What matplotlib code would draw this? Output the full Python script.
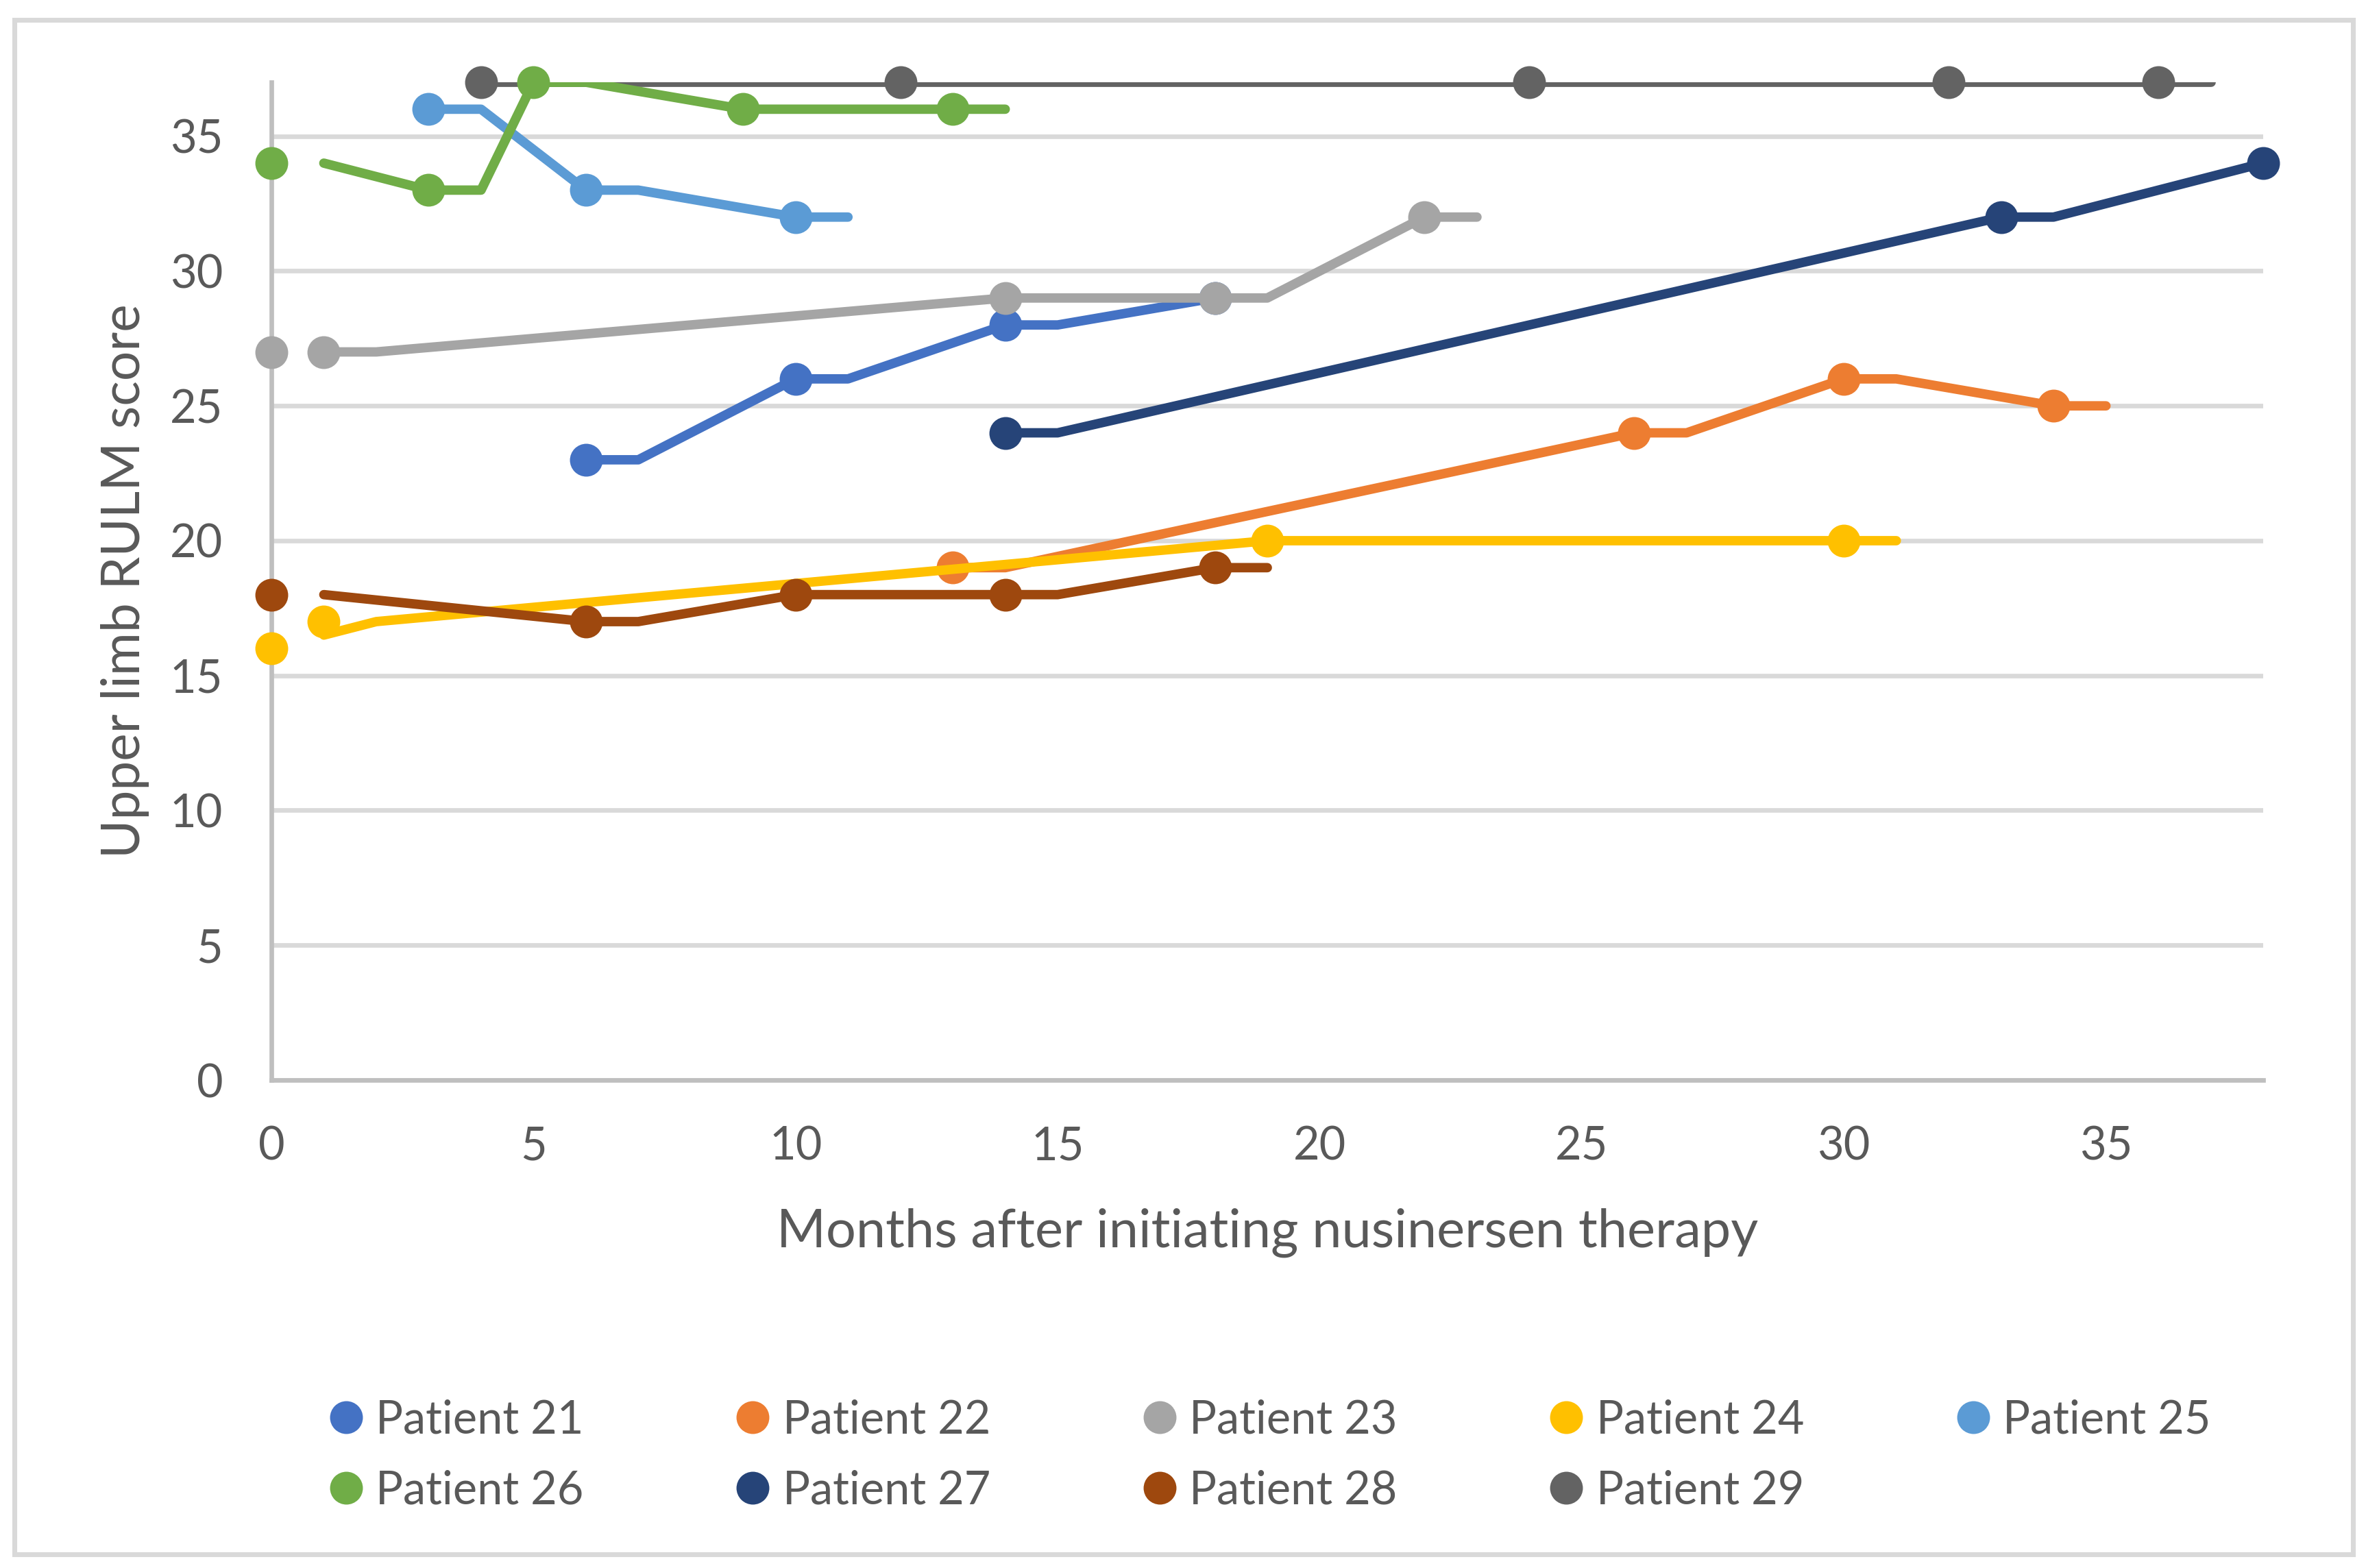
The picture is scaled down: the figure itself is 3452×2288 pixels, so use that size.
import numpy as np
import matplotlib
matplotlib.use("Agg")
import matplotlib.pyplot as plt
from matplotlib.lines import Line2D
from matplotlib.patches import FancyBboxPatch

#%% data: measured points (markers) and the drawn connecting lines per patient
patients = ["Patient 21", "Patient 22", "Patient 23", "Patient 24", "Patient 25",
            "Patient 26", "Patient 27", "Patient 28", "Patient 29"]
colors = ["#4472C4", "#ED7D31", "#A5A5A5", "#FFC000", "#5B9BD5",
          "#70AD47", "#264478", "#9E480E", "#636363"]

months_21 = [6, 10, 14, 18]
score_21 = [23, 26, 28, 29]
line_x_21 = [6, 7, 10, 11, 14, 15, 18]
line_y_21 = [23, 23, 26, 26, 28, 28, 29]

months_22 = [13, 26, 30, 34]
score_22 = [19, 24, 26, 25]
line_x_22 = [13, 14, 26, 27, 30, 31, 34, 35]
line_y_22 = [19, 19, 24, 24, 26, 26, 25, 25]

months_23 = [0, 1, 14, 18, 22]
score_23 = [27, 27, 29, 29, 32]
line_x_23 = [1, 2, 14, 15, 18, 19, 22, 23]
line_y_23 = [27, 27, 29, 29, 29, 29, 32, 32]

months_24 = [0, 1, 19, 30]
score_24 = [16, 17, 20, 20]
line_x_24 = [1, 2, 19, 20, 30, 31]
line_y_24 = [16.5, 17, 20, 20, 20, 20]

months_25 = [3, 6, 10]
score_25 = [36, 33, 32]
line_x_25 = [3, 4, 6, 7, 10, 11]
line_y_25 = [36, 36, 33, 33, 32, 32]

months_26 = [0, 3, 5, 9, 13]
score_26 = [34, 33, 37, 36, 36]
line_x_26 = [1, 3, 4, 5, 6, 9, 10, 13, 14]
line_y_26 = [34, 33, 33, 37, 37, 36, 36, 36, 36]

months_27 = [14, 33, 38]
score_27 = [24, 32, 34]
line_x_27 = [14, 15, 33, 34, 38]
line_y_27 = [24, 24, 32, 32, 34]

months_28 = [0, 6, 10, 14, 18]
score_28 = [18, 17, 18, 18, 19]
line_x_28 = [1, 6, 7, 10, 14, 15, 18, 19]
line_y_28 = [18, 17, 17, 18, 18, 18, 19, 19]

months_29 = [4, 12, 24, 32, 36]
score_29 = [37, 37, 37, 37, 37]
line_x_29 = [4, 37]
line_y_29 = [37, 37]

points = [(months_21, score_21), (months_22, score_22), (months_23, score_23),
          (months_24, score_24), (months_25, score_25), (months_26, score_26),
          (months_27, score_27), (months_28, score_28), (months_29, score_29)]
lines = [(line_x_21, line_y_21), (line_x_22, line_y_22), (line_x_23, line_y_23),
         (line_x_24, line_y_24), (line_x_25, line_y_25), (line_x_26, line_y_26),
         (line_x_27, line_y_27), (line_x_28, line_y_28), (line_x_29, line_y_29)]

#%% figure
plt.rcParams['font.family'] = ['Lato', 'DejaVu Sans']
txt = "#595959"
DPI = 300
fig = plt.figure(figsize=(3452 / DPI, 2288 / DPI), dpi=DPI)
fig.patch.set_facecolor("white")

# chart border
fig.patches.append(FancyBboxPatch((21 / 3452, 1 - 2268 / 2288), (3433 - 21) / 3452,
                                  (2268 - 29) / 2288, boxstyle="square,pad=0",
                                  transform=fig.transFigure, fill=False,
                                  edgecolor="#D9D9D9", linewidth=1.7))

ax = fig.add_axes([396 / 3452, 1 - 1576 / 2288, (3302 - 396) / 3452, (1576 - 120) / 2288])

for k, ((lx, ly), (mx, my), c) in enumerate(zip(lines, points, colors)):
    zl = 2 + k if k < 8 else 1.5
    ax.plot(lx, ly, color=c, lw=3.3, solid_capstyle='round', zorder=zl)
    ax.plot(mx, my, 'o', color=c, ms=11.5, markeredgewidth=0, clip_on=False,
            zorder=2.5 + k)

ax.set_xlim(0, 38)
ax.set_ylim(0, 37)
ax.set_xticks(np.arange(0, 36, 5))
ax.set_yticks(np.arange(0, 36, 5))
ax.grid(axis='y', color="#D9D9D9", lw=1.6)
ax.set_axisbelow(True)
for s in ['top', 'right']:
    ax.spines[s].set_visible(False)
for s in ['left', 'bottom']:
    ax.spines[s].set_color("#BFBFBF")
    ax.spines[s].set_linewidth(1.6)
ax.tick_params(length=0, labelsize=16, labelcolor=txt)
ax.tick_params(axis='y', pad=17)
ax.tick_params(axis='x', pad=16)

ax.set_xlabel("Months after initiating nusinersen therapy", fontsize=18.6, color=txt)
ax.xaxis.label.set_va('center')
ax.xaxis.set_label_coords(0.5, -(1799 - 1576) / 1456)
ax.set_ylabel("Upper limb RULM score", fontsize=18.4, color=txt)
ax.yaxis.label.set_va('center')
ax.yaxis.set_label_coords(-(396 - 183) / 2906, 0.5)

# legend: row-major order in 5 columns
handles = [Line2D([], [], ls='none', marker='o', ms=11.5, markeredgewidth=0, color=c)
           for c in colors]
order = [0, 5, 1, 6, 2, 7, 3, 8, 4]
leg = fig.legend([handles[i] for i in order], [patients[i] for i in order],
                 ncol=5, loc='center', bbox_to_anchor=(1852 / 3452, 1 - 2124 / 2288),
                 frameon=False, fontsize=16, labelcolor=txt, handlelength=0.8,
                 handletextpad=0.25, columnspacing=3.3, labelspacing=0.62)

fig.savefig("out.png", dpi=DPI)
